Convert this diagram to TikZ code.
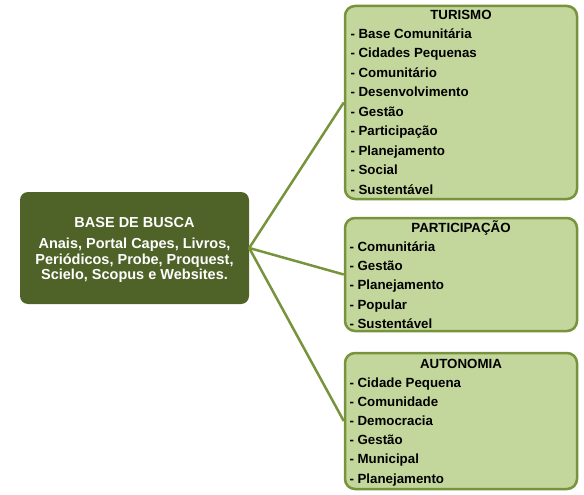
\documentclass[tikz,border=0pt]{standalone}
\usepackage{fontspec}
\setmainfont{Liberation Sans}
\definecolor{darkolive}{HTML}{4F6228}
\definecolor{lightolive}{HTML}{C3D69B}
\definecolor{edgeolive}{HTML}{77933C}
\begin{document}
\begin{tikzpicture}[x=1pt,y=-1pt,
  greenbox/.style={draw=edgeolive, line width=2.5pt, fill=lightolive, rounded corners=10pt, inner sep=0pt},
  basebox/.style={fill=darkolive, rounded corners=8pt, inner sep=0pt},
  conn/.style={draw=edgeolive, line width=2.5pt},
  itemtxt/.style={anchor=base west, inner sep=0pt, font=\fontsize{13.3}{16}\selectfont\bfseries, text=black},
  titletxt/.style={anchor=base, inner sep=0pt, font=\fontsize{13.3}{16}\selectfont\bfseries, text=black},
  basetxt/.style={anchor=base, inner sep=0pt, font=\fontsize{14.5}{16}\selectfont\bfseries, text=white}]
\useasboundingbox (0,0) rectangle (584,495);
% boxes
\node[basebox, minimum width=229pt, minimum height=112pt] (base) at (134.5,248) {};
\node[greenbox, minimum width=232pt, minimum height=193pt] (tur) at (461,102.5) {};
\node[greenbox, minimum width=232pt, minimum height=113pt] (par) at (461,274.5) {};
\node[greenbox, minimum width=232pt, minimum height=136pt] (aut) at (461,421) {};
% connectors
\draw[conn] (base.east) -- (tur.west);
\draw[conn] (base.east) -- (par.west);
\draw[conn] (base.east) -- (aut.west);
% base text
\node[basetxt] (b0) at (134.5,227) {BASE DE BUSCA};
\node[basetxt] (b1) at (134.5,248.3) {Anais, Portal Capes, Livros,};
\node[basetxt] (b2) at (134.5,264) {Periódicos, Probe, Proquest,};
\node[basetxt] (b3) at (134.5,279.3) {Scielo, Scopus e Websites.};
% turismo
\node[titletxt] (turt) at (461,19.8) {TURISMO};
\foreach \t [count=\i] in {Base Comunitária, Cidades Pequenas, Comunitário, Desenvolvimento, Gestão, Participação, Planejamento, Social, Sustentável}
  \node[itemtxt, name=tu\i] at (350.3,{38.3+19.5*(\i-1)}) {- \t};
% participacao
\node[titletxt] (part) at (461,232.8) {PARTICIPAÇÃO};
\foreach \t [count=\i] in {Comunitária, Gestão, Planejamento, Popular, Sustentável}
  \node[itemtxt, name=pa\i] at (349.3,{251.5+19.2*(\i-1)}) {- \t};
% autonomia
\node[titletxt] (autt) at (461,368.1) {AUTONOMIA};
\foreach \t [count=\i] in {Cidade Pequena, Comunidade, Democracia, Gestão, Municipal, Planejamento}
  \node[itemtxt, name=au\i] at (349.3,{387.5+19.1*(\i-1)}) {- \t};
\end{tikzpicture}
\end{document}
